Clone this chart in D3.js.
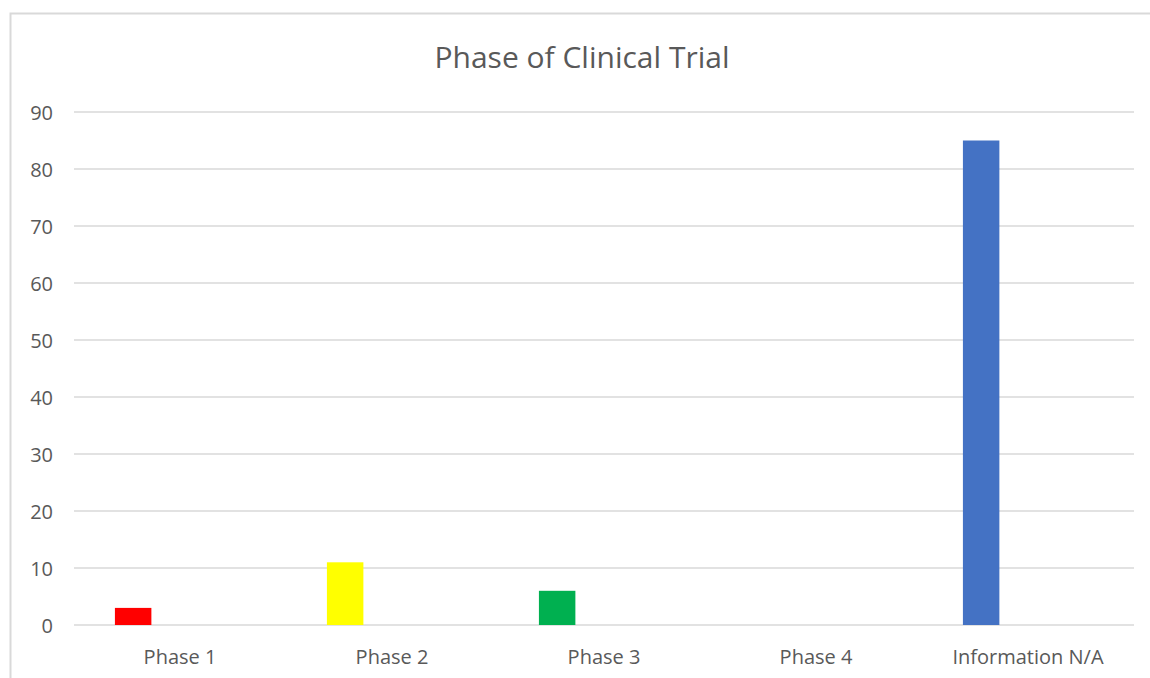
<!DOCTYPE html>
<html><head><meta charset="utf-8">
<script src="https://cdn.jsdelivr.net/npm/d3@7"></script>
<style>
html,body{margin:0;padding:0;background:#fff;}
svg{display:block;}
text{font-family:"Open Sans","Noto Sans",sans-serif;fill:#595959;}
</style></head>
<body><svg id="chart" width="1150" height="678"></svg>
<script>
const categories = ["Phase 1", "Phase 2", "Phase 3", "Phase 4", "Information N/A"];
const values = [3, 11, 6, 0, 85];
const barColors = ["#ff0000", "#ffff00", "#00b050", "#7030a0", "#4472c4"];
const yTicks = [0, 10, 20, 30, 40, 50, 60, 70, 80, 90];
const title = "Phase of Clinical Trial";

const svg = d3.select("#chart");
const W = 1150, H = 678;
const plot = {left: 74, right: 1134, top: 112, bottom: 625};
const font = "'Open Sans','Noto Sans',sans-serif";

// chart border
svg.append("rect").attr("x", 10.5).attr("y", 13.5).attr("width", W + 10).attr("height", H + 10)
  .attr("fill", "none").attr("stroke", "#d9d9d9").attr("stroke-width", 2);

const x = d3.scaleBand().domain(categories).range([plot.left, plot.right]).padding(0);
const y = d3.scaleLinear().domain([0, 90]).range([plot.bottom, plot.top]);

// gridlines
svg.append("g").selectAll("line").data(yTicks).join("line")
  .attr("x1", plot.left).attr("x2", plot.right)
  .attr("y1", d => y(d)).attr("y2", d => y(d))
  .attr("stroke", "#d9d9d9").attr("stroke-width", 1.5);

// y axis labels
const yAxis = d3.axisLeft(y).tickValues(yTicks).tickSize(0).tickPadding(0);
const gy = svg.append("g").attr("transform", "translate(53,0)").call(yAxis);
gy.select(".domain").remove();
gy.selectAll("text").attr("font-size", 20).style("fill", "#595959")
  .style("font-family", font).attr("dy", "0.35em");

// bars (first series of a clustered layout)
const bw = x.bandwidth();
const barOffset = bw * 0.193, barWidth = bw * 0.172;
svg.append("g").selectAll("rect").data(categories.map((c, i) => ({c, v: values[i], col: barColors[i]})))
  .join("rect")
  .attr("x", d => x(d.c) + barOffset)
  .attr("width", barWidth)
  .attr("y", d => y(d.v))
  .attr("height", d => y(0) - y(d.v))
  .attr("fill", d => d.col);

// x axis labels
const xAxis = d3.axisBottom(x).tickSize(0).tickPadding(0);
const gx = svg.append("g").attr("transform", `translate(0,${plot.bottom})`).call(xAxis);
gx.select(".domain").remove();
gx.selectAll("text").attr("font-size", 20).style("fill", "#595959")
  .style("font-family", font).attr("y", 39).attr("dy", 0);

// title
svg.append("text").attr("x", 582).attr("y", 68)
  .attr("text-anchor", "middle").attr("font-size", 30).text(title);
</script></body></html>
